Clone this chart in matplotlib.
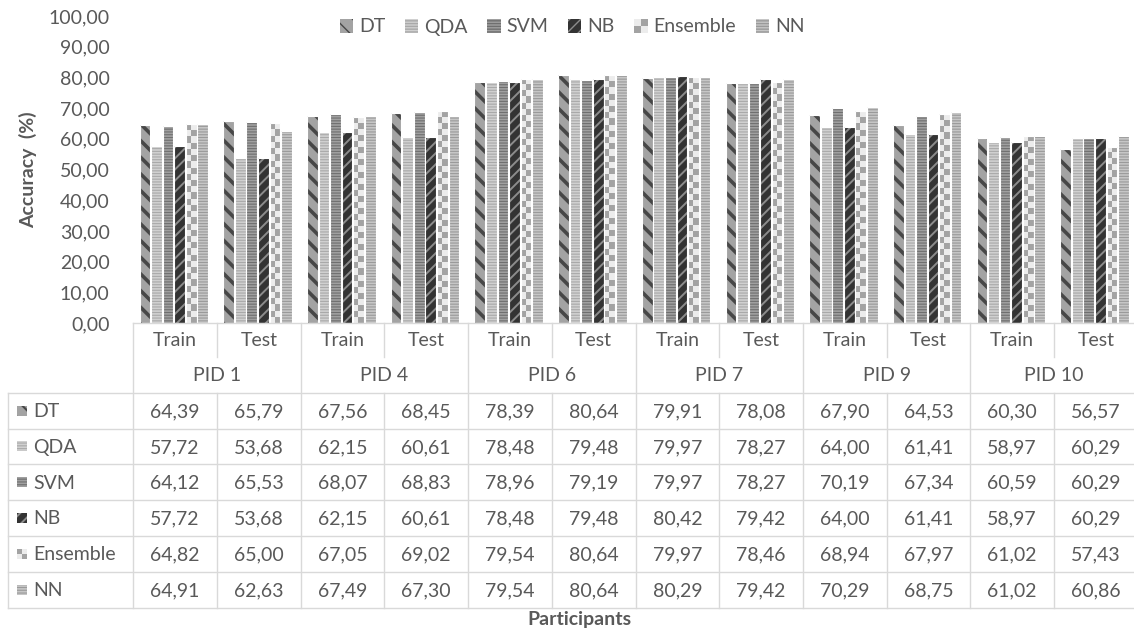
import matplotlib
matplotlib.use('Agg')
import matplotlib.pyplot as plt
import numpy as np
from matplotlib.patches import Rectangle, Patch
from matplotlib.colors import ListedColormap
from matplotlib.legend_handler import HandlerBase

participants = ['PID 1', 'PID 4', 'PID 6', 'PID 7', 'PID 9', 'PID 10']
phases = ['Train', 'Test']
models = ['DT', 'QDA', 'SVM', 'NB', 'Ensemble', 'NN']

dt = [64.39, 65.79, 67.56, 68.45, 78.39, 80.64, 79.91, 78.08, 67.90, 64.53, 60.30, 56.57]
qda = [57.72, 53.68, 62.15, 60.61, 78.48, 79.48, 79.97, 78.27, 64.00, 61.41, 58.97, 60.29]
svm = [64.12, 65.53, 68.07, 68.83, 78.96, 79.19, 79.97, 78.27, 70.19, 67.34, 60.59, 60.29]
nb = [57.72, 53.68, 62.15, 60.61, 78.48, 79.48, 80.42, 79.42, 64.00, 61.41, 58.97, 60.29]
ensemble = [64.82, 65.00, 67.05, 69.02, 79.54, 80.64, 79.97, 78.46, 68.94, 67.97, 61.02, 57.43]
nn = [64.91, 62.63, 67.49, 67.30, 79.54, 80.64, 80.29, 79.42, 70.29, 68.75, 61.02, 60.86]
yticks = list(range(0, 101, 10))

series = {'DT': dt, 'QDA': qda, 'SVM': svm, 'NB': nb, 'Ensemble': ensemble, 'NN': nn}

plt.rcParams['font.family'] = ['Lato', 'DejaVu Sans']
TXT = '#595959'
GRID = '#d9d9d9'
FS = 14
CHK_DARK, CHK_LIGHT = '#a3a3a3', '#ececec'

styles = {
    'DT': dict(face='#a3a3a3', hatch='\\\\', hc='#474747', hlw=2.6),
    'QDA': dict(face='#d0d0d0', hatch='------', hc='#a9a9a9', hlw=0.8),
    'SVM': dict(face='#a0a0a0', hatch='------', hc='#6f6f6f', hlw=0.8),
    'NB': dict(face='#333333', hatch='///', hc='#8c8c8c', hlw=1.4),
    'Ensemble': dict(face=CHK_LIGHT, hatch='', hc=CHK_DARK, hlw=1.0),
    'NN': dict(face='#c6c6c6', hatch='------', hc='#9a9a9a', hlw=0.8),
}
checker_cmap = ListedColormap([CHK_LIGHT, CHK_DARK])


def set_hlw(p, v):
    if hasattr(p, 'set_hatch_linewidth'):
        p.set_hatch_linewidth(v)


class CheckerHandler(HandlerBase):
    def create_artists(self, legend, orig_handle, xdescent, ydescent, width, height, fontsize, trans):
        arts = []
        hw, hh = width / 2, height / 2
        for qi in range(2):
            for qj in range(2):
                c = CHK_DARK if (qi + qj) % 2 == 0 else CHK_LIGHT
                r = Rectangle((-xdescent + qi * hw, -ydescent + qj * hh), hw, hh,
                              facecolor=c, linewidth=0, transform=trans)
                arts.append(r)
        return arts


W, H = 1134, 632
fig = plt.figure(figsize=(W / 100, H / 100), dpi=100)

ax_left, ax_right = 133.3, 1137.7
ax_top, ax_bot = 16, 323
ax = fig.add_axes([ax_left / W, 1 - ax_bot / H, (ax_right - ax_left) / W, (ax_bot - ax_top) / H])

n = len(dt)
x = np.arange(n)
pitch, width = 0.138, 0.128
offsets = (np.arange(len(models)) - 2.5) * pitch - 0.015

handles = []
handler_map = {}
for k, m in enumerate(models):
    st = styles[m]
    vals = series[m]
    xs = x + offsets[k]
    if m == 'Ensemble':
        bars = ax.bar(xs, vals, width, color=st['face'], linewidth=0)
        for b in bars:
            h = b.get_height()
            x0 = b.get_x()
            nrows = max(1, int(round(h / 2.0)))
            arr = np.indices((nrows, 2)).sum(0) % 2
            im = ax.imshow(arr, extent=(x0, x0 + b.get_width(), 0, h), cmap=checker_cmap,
                           aspect='auto', interpolation='nearest', origin='lower', zorder=b.zorder)
            im.set_clip_path(b)
        hp = Patch(facecolor=st['face'], linewidth=0)
        handler_map[hp] = CheckerHandler()
        handles.append(hp)
    else:
        with plt.rc_context({'hatch.linewidth': st['hlw']}):
            bars = ax.bar(xs, vals, width, color=st['face'], hatch=st['hatch'], edgecolor=st['hc'], linewidth=0)
            hp = Patch(facecolor=st['face'], hatch=st['hatch'], edgecolor=st['hc'], linewidth=0)
        for b in bars:
            set_hlw(b, st['hlw'])
        set_hlw(hp, st['hlw'])
        handles.append(hp)
    ax.bar(xs, vals, width, fill=False, edgecolor='white', linewidth=0.8)

ax.set_xlim(-0.5, n - 0.5)
ax.set_ylim(0, 100)
ax.set_xticks([])
ax.set_yticks(yticks)
ax.set_yticklabels([f"{t:.2f}".replace('.', ',') for t in yticks])
ax.tick_params(axis='y', length=0, pad=17, labelsize=FS, labelcolor=TXT)
for s in ax.spines.values():
    s.set_visible(False)

ov = fig.add_axes([0, 0, 1, 1])
ov.set_xlim(0, W)
ov.set_ylim(H, 0)
ov.axis('off')
ov.set_facecolor('none')

col_w = (ax_right - ax_left) / n
col_edges = ax_left + col_w * np.arange(n + 1)
hdr1_bot = 357
tbl_top = 392.7
row_h = 35.8
row_edges = tbl_top + row_h * np.arange(len(models) + 1)
tbl_bot = row_edges[-1]
tbl_left = 8

lw = 1.0
ov.plot([ax_left, ax_right], [ax_bot, ax_bot], color=GRID, lw=lw)
for i, cx in enumerate(col_edges):
    if i % 2 == 0:
        ov.plot([cx, cx], [ax_bot, tbl_bot], color=GRID, lw=lw)
    else:
        ov.plot([cx, cx], [ax_bot, hdr1_bot], color=GRID, lw=lw)
        ov.plot([cx, cx], [tbl_top, tbl_bot], color=GRID, lw=lw)
for ry in row_edges:
    ov.plot([tbl_left, ax_right], [ry, ry], color=GRID, lw=lw)
ov.plot([tbl_left, tbl_left], [tbl_top, tbl_bot], color=GRID, lw=lw)

for i in range(n):
    cx = (col_edges[i] + col_edges[i + 1]) / 2
    ov.text(cx, (ax_bot + hdr1_bot) / 2 + 1, phases[i % 2], ha='center', va='center', fontsize=FS, color=TXT)
for j, p in enumerate(participants):
    cx = col_edges[2 * j + 1]
    ov.text(cx, (hdr1_bot + tbl_top) / 2 + 1, p, ha='center', va='center', fontsize=FS, color=TXT)

for r, m in enumerate(models):
    st = styles[m]
    yc = (row_edges[r] + row_edges[r + 1]) / 2
    if m == 'Ensemble':
        for qi in range(2):
            for qj in range(2):
                c = CHK_DARK if (qi + qj) % 2 == 0 else CHK_LIGHT
                ov.add_patch(Rectangle((17 + qi * 5, yc - 5 + qj * 5), 5, 5, facecolor=c, linewidth=0))
    else:
        with plt.rc_context({'hatch.linewidth': min(st['hlw'], 1.5)}):
            kp = Rectangle((17, yc - 5), 10, 10, facecolor=st['face'], hatch=st['hatch'],
                           edgecolor=st['hc'], linewidth=0)
        set_hlw(kp, min(st['hlw'], 1.5))
        ov.add_patch(kp)
    ov.text(33, yc + 1, m, ha='left', va='center', fontsize=FS, color=TXT)
    for i, v in enumerate(series[m]):
        cx = (col_edges[i] + col_edges[i + 1]) / 2
        ov.text(cx, yc + 1, f"{v:.2f}".replace('.', ','), ha='center', va='center', fontsize=FS, color=TXT)

fig.text(28 / W, 1 - 170 / H, 'Accuracy  (%)', rotation=90, ha='center', va='center',
         fontsize=FS, fontweight='bold', color=TXT)
fig.text(579 / W, 1 - 619 / H, 'Participants', ha='center', va='center',
         fontsize=FS, fontweight='bold', color=TXT)

fig.legend(handles, models, loc='center', bbox_to_anchor=(572 / W, 1 - 27 / H), ncol=6,
           frameon=False, fontsize=FS, handlelength=0.7, handleheight=0.7, handletextpad=0.3,
           columnspacing=1.0, labelcolor=TXT, handler_map=handler_map)

fig.savefig('out.png', dpi=100)
